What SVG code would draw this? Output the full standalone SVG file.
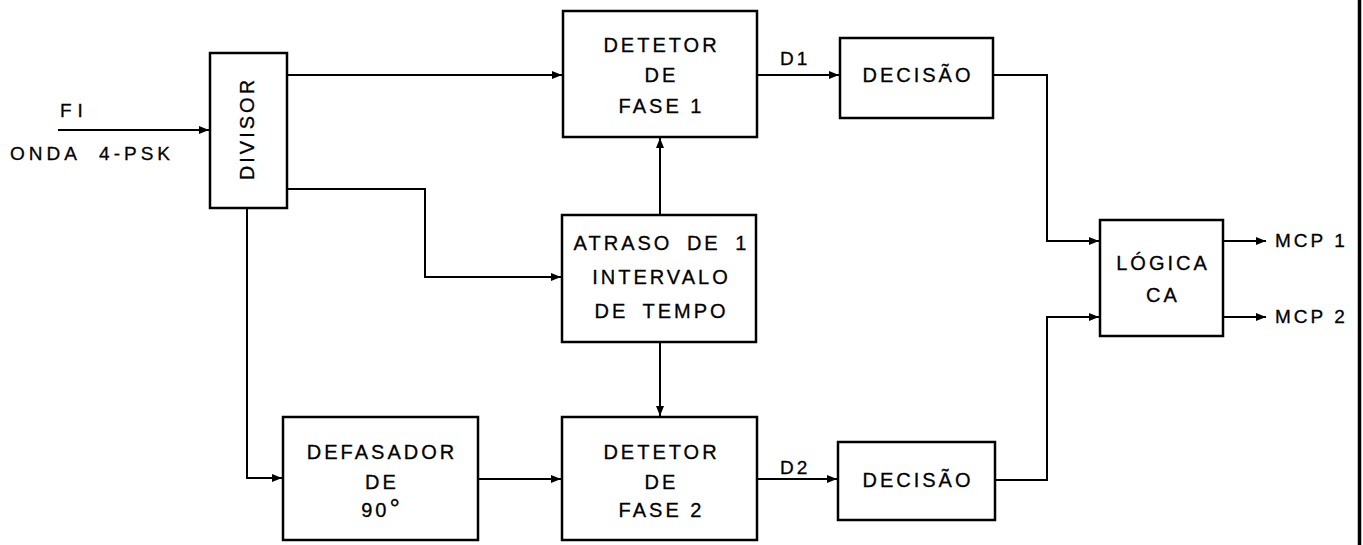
<svg xmlns="http://www.w3.org/2000/svg" width="1363" height="545" viewBox="0 0 1363 545">
<style>
.box{fill:#fff;stroke:#000;stroke-width:2.5}
.lbl{font-family:"Liberation Sans",Arial,sans-serif;font-size:20px;letter-spacing:3px;fill:#000;text-anchor:middle;stroke:#000;stroke-width:0.3}
.sm{font-family:"Liberation Sans",Arial,sans-serif;font-size:19px;letter-spacing:3px;fill:#000;stroke:#000;stroke-width:0.3}
.wire{fill:none;stroke:#000;stroke-width:2}
</style>
<defs>
<marker id="ah" markerUnits="userSpaceOnUse" markerWidth="10" markerHeight="8" refX="10" refY="4" orient="auto">
<path d="M0,0 L10,4 L0,8 z" fill="#000"/>
</marker>
</defs>
<rect width="1363" height="545" fill="#fff"/>
<g id="connectors">
<line class="wire" x1="58" y1="130" x2="209" y2="130" marker-end="url(#ah)"/>
<line class="wire" x1="287" y1="75" x2="562" y2="75" marker-end="url(#ah)"/>
<polyline class="wire" points="287,189 425,189 425,277 561,277" marker-end="url(#ah)"/>
<polyline class="wire" points="247,208 247,478 282,478" marker-end="url(#ah)"/>
<line class="wire" x1="660" y1="215" x2="660" y2="138" marker-end="url(#ah)"/>
<line class="wire" x1="660" y1="342" x2="660" y2="416" marker-end="url(#ah)"/>
<line class="wire" x1="478" y1="479" x2="561" y2="479" marker-end="url(#ah)"/>
<line class="wire" x1="757" y1="75" x2="839" y2="75" marker-end="url(#ah)"/>
<line class="wire" x1="757" y1="479" x2="837" y2="479" marker-end="url(#ah)"/>
<polyline class="wire" points="993,75 1047,75 1047,241 1099,241" marker-end="url(#ah)"/>
<polyline class="wire" points="995,480 1047,480 1047,317 1099,317" marker-end="url(#ah)"/>
<line class="wire" x1="1223" y1="241" x2="1266" y2="241" marker-end="url(#ah)"/>
<line class="wire" x1="1223" y1="317" x2="1266" y2="317" marker-end="url(#ah)"/>
</g>
<g id="input-label">
<text class="sm" x="60" y="117" style="letter-spacing:6px">FI</text>
<text class="sm" x="10" y="160" style="letter-spacing:4px" word-spacing="10">ONDA 4-PSK</text>
</g>
<g id="divisor">
<rect class="box" x="210" y="53" width="77" height="155"/>
<text class="lbl" transform="translate(254,130) rotate(-90)" x="1.5" y="0">DIVISOR</text>
</g>
<g id="detetor1">
<rect class="box" x="563" y="11" width="194" height="126"/>
<text class="lbl" x="661.5" y="52">DETETOR</text>
<text class="lbl" x="661.5" y="82">DE</text>
<text class="lbl" x="661.5" y="113">FASE 1</text>
</g>
<g id="atraso">
<rect class="box" x="562" y="215" width="194" height="127"/>
<text class="lbl" x="661.5" y="250" word-spacing="6">ATRASO DE 1</text>
<text class="lbl" x="661.5" y="284">INTERVALO</text>
<text class="lbl" x="661.5" y="318" word-spacing="6">DE TEMPO</text>
</g>
<g id="defasador">
<rect class="box" x="283" y="417" width="195" height="123"/>
<text class="lbl" x="382" y="459">DEFASADOR</text>
<text class="lbl" x="382" y="489">DE</text>
<text class="lbl" x="382" y="517">90<tspan font-size="26px">°</tspan></text>
</g>
<g id="detetor2">
<rect class="box" x="562" y="417" width="195" height="123"/>
<text class="lbl" x="661.5" y="459">DETETOR</text>
<text class="lbl" x="661.5" y="489">DE</text>
<text class="lbl" x="661.5" y="517">FASE 2</text>
</g>
<g id="decisao1">
<rect class="box" x="840" y="38" width="153" height="80"/>
<text class="lbl" x="918" y="82">DECISÃO</text>
</g>
<g id="decisao2">
<rect class="box" x="838" y="442" width="157" height="78"/>
<text class="lbl" x="918" y="487">DECISÃO</text>
</g>
<g id="logica">
<rect class="box" x="1100" y="220" width="123" height="116"/>
<text class="lbl" x="1163" y="270">LÓGICA</text>
<text class="lbl" x="1163" y="302">CA</text>
</g>
<g id="signal-labels">
<text class="sm" x="780" y="65">D1</text>
<text class="sm" x="780" y="474">D2</text>
<text class="sm" x="1275" y="247">MCP 1</text>
<text class="sm" x="1275" y="323">MCP 2</text>
</g>
<line x1="1359.5" y1="0" x2="1359.5" y2="545" stroke="#000" stroke-width="3.5"/>
</svg>
